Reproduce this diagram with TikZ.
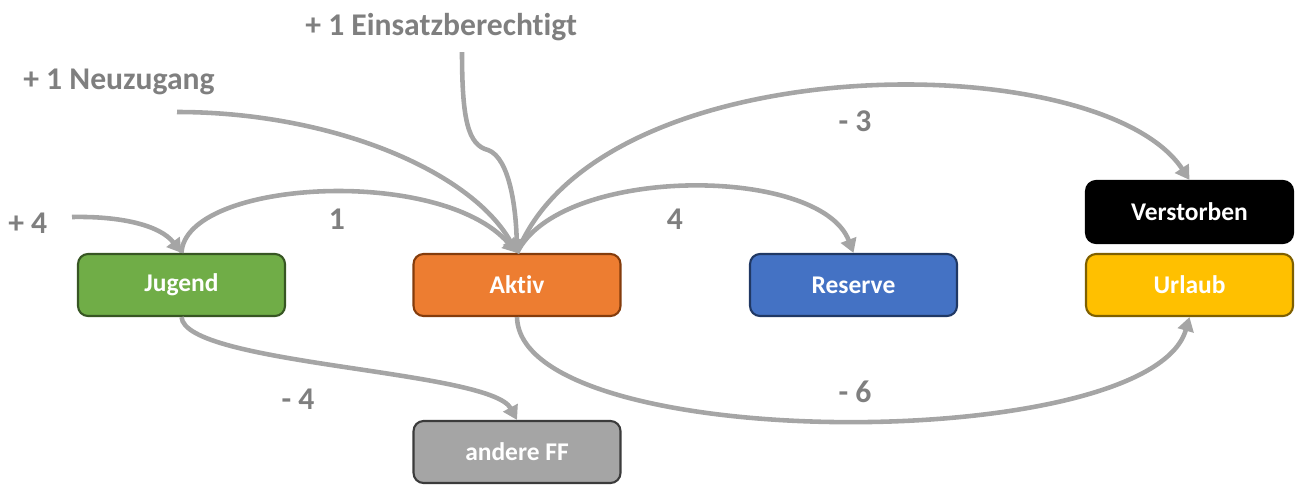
\documentclass[tikz,border=0pt]{standalone}
\usepackage{fontspec}
\setmainfont{Carlito}[Ligatures={NoCommon,NoContextual}, RawFeature={-liga;-clig;-calt;-dlig}]
\usepackage{tikz}
\usetikzlibrary{arrows.meta}
\definecolor{gruen}{HTML}{70AD47}
\definecolor{gruenrand}{HTML}{375623}
\definecolor{orange}{HTML}{ED7D31}
\definecolor{orangerand}{HTML}{843C0C}
\definecolor{blau}{HTML}{4472C4}
\definecolor{blaurand}{HTML}{203864}
\definecolor{gelb}{HTML}{FFC000}
\definecolor{gelbrand}{HTML}{7F6000}
\definecolor{grau}{HTML}{A5A5A5}
\definecolor{graurand}{HTML}{3B3B3B}
\definecolor{schrift}{HTML}{7F7F7F}

\begin{document}
\begin{tikzpicture}[x=0.02cm,y=-0.02cm]
\useasboundingbox (0,0) rectangle (1297,484);
\tikzstyle{box}=[rectangle, draw, rounded corners=0.2cm, line width=1.2pt,
    minimum width = 4.14cm, minimum height = 1.24cm, text=white,
    font=\bfseries\fontsize{14.5}{16}\selectfont]
\tikzstyle{zahl}=[text=schrift, inner sep=0pt, font=\bfseries\fontsize{18}{20}\selectfont]
\tikzstyle{pfeil}=[draw=grau, line width=2.6pt, -{Triangle[length=0.28cm,width=0.32cm]}]

% Kaesten
\node[box, fill=gruen, draw=gruenrand] (jugend) at (181.5,285) {Jugend};
\node[box, fill=orange, draw=orangerand] (aktiv) at (517,285) {Aktiv};
\node[box, fill=blau, draw=blaurand] (reserve) at (853.5,285) {Reserve};
\node[box, fill=gelb, draw=gelbrand] (urlaub) at (1189.5,285) {Urlaub};
\node[box, fill=black, draw=black] (verstorben) at (1189.5,212) {Verstorben};
\node[box, fill=grau, draw=graurand] (andere) at (517,452) {andere FF};

% Beschriftungen
\node[zahl, anchor=base west] (leins) at (305,35) {+ 1 Einsatzberechtigt};
\node[zahl, anchor=base west] (lneu) at (23,89) {+ 1 Neuzugang};
\node[zahl, anchor=base west] (lvier) at (8,233) {+ 4};
\node[zahl, anchor=base] (leins2) at (337,229) {1};
\node[zahl, anchor=base] (lres) at (675,229) {4};
\node[zahl, anchor=base] (lverst) at (855,131) {- 3};
\node[zahl, anchor=base] (lurl) at (855,402) {- 6};
\node[zahl, anchor=base] (land) at (298,409) {- 4};

% Startpunkte
\coordinate (ceins) at (462,52);
\coordinate (cneu) at (177,112);
\coordinate (cvier) at (72,217);

% Pfeile
\draw[pfeil] (cvier) .. controls (120,216) and (160,225) .. (jugend.north);
\draw[pfeil] (jugend.north) .. controls (185,180) and (440,165) .. (aktiv.north);
\draw[pfeil] (cneu) .. controls (330,112) and (470,170) .. (aktiv.north);
\draw[pfeil] (ceins) .. controls (462,120) and (468,145) .. (488,150)
    .. controls (510,158) and (516,210) .. (aktiv.north);
\draw[pfeil] (aktiv.north) .. controls (560,165) and (820,165) .. (reserve.north);
\draw[pfeil] (aktiv.north) .. controls (600,45) and (1100,45) .. (verstorben.north);
\draw[pfeil] (aktiv.south) .. controls (520,455) and (1150,455) .. (urlaub.south);
\draw[pfeil] (jugend.south) .. controls (185,365) and (490,370) .. (andere.north);
\end{tikzpicture}
\end{document}
